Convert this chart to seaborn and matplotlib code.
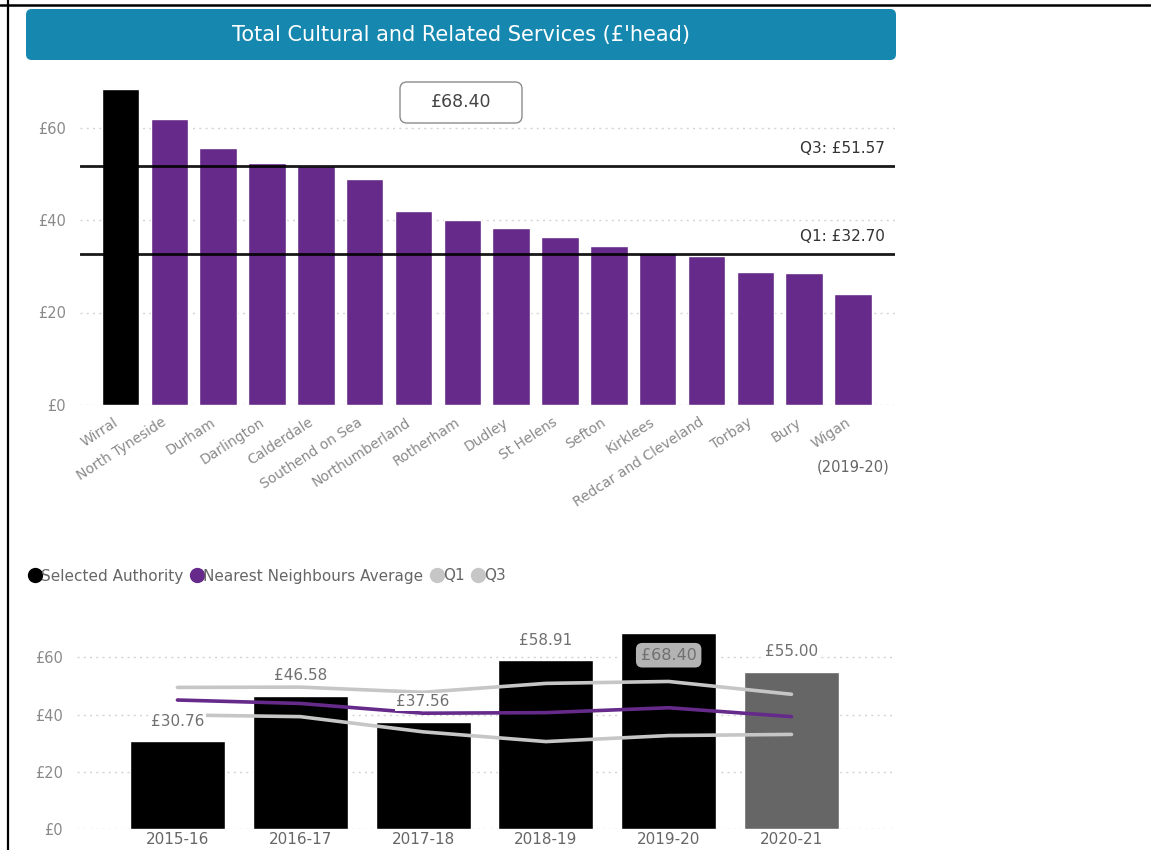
import numpy as np
import pandas as pd
import matplotlib
matplotlib.use("Agg")
import matplotlib.pyplot as plt
import matplotlib.transforms as mtrans
from matplotlib.patches import FancyBboxPatch
from matplotlib.lines import Line2D
import seaborn as sns

# ---- data -------------------------------------------------------------
authorities = ["Wirral", "North Tyneside", "Durham", "Darlington", "Calderdale",
               "Southend on Sea", "Northumberland", "Rotherham", "Dudley",
               "St Helens", "Sefton", "Kirklees", "Redcar and Cleveland",
               "Torbay", "Bury", "Wigan"]
spend_per_head = [68.40, 61.8, 55.6, 52.3, 51.7, 48.8, 41.9, 40.0, 38.3,
                  36.4, 34.4, 32.8, 32.2, 28.7, 28.5, 24.0]
q1_value = 32.70
q3_value = 51.57
selected_authority = "Wirral"

years = ["2015-16", "2016-17", "2017-18", "2018-19", "2019-20", "2020-21"]
selected_spend = [30.76, 46.58, 37.56, 58.91, 68.40, 55.00]
neighbours_avg = [45.1, 43.9, 40.5, 40.7, 42.4, 39.3]
q1_trend = [39.9, 39.3, 34.0, 30.6, 32.70, 33.1]
q3_trend = [49.5, 49.6, 47.8, 50.9, 51.57, 47.1]
current_year = "2019-20"
forecast_year = "2020-21"

yticks = [0, 20, 40, 60]

# ---- styling ----------------------------------------------------------
sns.set_theme(style="white")
plt.rcParams["font.family"] = ["DejaVu Sans"]

PURPLE = "#662a8a"
BLACK = "#000000"
GREY_BAR = "#666666"
GREY_LINE = "#c6c6c6"
TEAL = "#1688b0"
TICK_COL = "#8a8a8a"
TEXT_COL = "#666666"

W, H = 1151, 850
fig = plt.figure(figsize=(W / 100, H / 100), dpi=100)
fig.patch.set_facecolor("white")


def fbox(x0, y0, x1, y1):
    """Pixel box (top-left origin) -> figure-fraction rect."""
    return [x0 / W, 1 - y1 / H, (x1 - x0) / W, (y1 - y0) / H]


# page frame lines
fig.add_artist(Line2D([0, 1], [1 - 5 / H, 1 - 5 / H], color="black", lw=1.8,
                      transform=fig.transFigure))
fig.add_artist(Line2D([8 / W, 8 / W], [0, 1], color="black", lw=1.6,
                      transform=fig.transFigure))

# title banner
fig.add_artist(FancyBboxPatch((26 / W, 1 - 60 / H), 870 / W, 51 / H,
                              boxstyle="round,pad=0,rounding_size=0.005",
                              transform=fig.transFigure, facecolor=TEAL,
                              edgecolor="none", mutation_aspect=W / H))
fig.text(461 / W, 1 - 35 / H, "Total Cultural and Related Services (£'head)",
         ha="center", va="center", color="white", fontsize=15)


def style_axes(ax):
    sns.despine(ax=ax, left=True, bottom=True)
    ax.set_yticks(yticks)
    ax.set_yticklabels([f"£{v}" for v in yticks])
    ax.tick_params(axis="y", length=0, pad=10, labelsize=10.5, labelcolor=TICK_COL)
    ax.grid(False)
    for v in yticks:
        ax.axhline(v, color="#d4d4d4", lw=1.0, ls=(0, (1.5, 3)), zorder=0)
    ax.set_xlabel("")
    ax.set_ylabel("")


# ---- top: authority comparison ----------------------------------------
ax1 = fig.add_axes(fbox(80, 72, 895, 405))
df_top = pd.DataFrame({"authority": authorities, "spend": spend_per_head})
top_palette = {a: (BLACK if a == selected_authority else PURPLE) for a in authorities}
sns.barplot(data=df_top, x="authority", y="spend", hue="authority",
            palette=top_palette, legend=False, width=0.77, saturation=1,
            ax=ax1, zorder=2)
ax1.set_ylim(0, 72)
ax1.set_xlim(-0.83, 15.86)
style_axes(ax1)
ax1.tick_params(axis="x", length=0, pad=0, labelsize=10, labelcolor=TICK_COL)
offset = mtrans.ScaledTranslation(-4 / 100, -16 / 100, fig.dpi_scale_trans)
for lab in ax1.get_xticklabels():
    lab.set_rotation(33)
    lab.set_ha("right")
    lab.set_va("center")
    lab.set_rotation_mode("anchor")
    lab.set_transform(lab.get_transform() + offset)

for qv, name in [(q3_value, "Q3"), (q1_value, "Q1")]:
    ax1.axhline(qv, color="black", lw=2.0, zorder=3, alpha=0.9)
    ax1.annotate(f"{name}: £{qv:.2f}", xy=(1, qv), xycoords=("axes fraction", "data"),
                 xytext=(-10, 17.5), textcoords="offset pixels", ha="right",
                 va="center", fontsize=11, color="#333333")

fig.text(890 / W, 1 - 467 / H, "(2019-20)", ha="right", va="center",
         fontsize=10.5, color=TEXT_COL)

# selected-authority value card
sel_val = spend_per_head[authorities.index(selected_authority)]
fig.add_artist(FancyBboxPatch((400 / W, 1 - 123 / H), 122 / W, 41 / H,
                              boxstyle="round,pad=0,rounding_size=0.006",
                              transform=fig.transFigure, facecolor="white",
                              edgecolor="#8c8c8c", lw=1.0, mutation_aspect=W / H))
fig.text(461 / W, 1 - 102 / H, f"£{sel_val:.2f}", ha="center", va="center",
         fontsize=12.5, color="#444444")

# ---- legend -----------------------------------------------------------
handles = [Line2D([], [], marker="o", ls="", color=c, markersize=10)
           for c in [BLACK, PURPLE, GREY_LINE, GREY_LINE]]
labels = ["Selected Authority", "Nearest Neighbours Average", "Q1", "Q3"]
fig.legend(handles, labels, loc="center left", bbox_to_anchor=(30 / W, 1 - 576 / H),
           ncol=4, frameon=False, handlelength=0.6, handletextpad=0.1,
           columnspacing=0.6, fontsize=11, labelcolor=TEXT_COL,
           borderaxespad=0, borderpad=0)

# ---- bottom: trend over years ------------------------------------------
ax2 = fig.add_axes(fbox(77, 622.9, 895, 829.3))
df_bot = pd.DataFrame({"year": years, "spend": selected_spend})
bot_palette = {y: (GREY_BAR if y == forecast_year else BLACK) for y in years}
sns.barplot(data=df_bot, x="year", y="spend", hue="year", palette=bot_palette,
            legend=False, width=0.774, saturation=1, ax=ax2, zorder=2)
xpos = np.arange(len(years))
sns.lineplot(x=xpos, y=q3_trend, color=GREY_LINE, lw=2.6, ax=ax2, zorder=3)
sns.lineplot(x=xpos, y=q1_trend, color=GREY_LINE, lw=2.6, ax=ax2, zorder=3)
sns.lineplot(x=xpos, y=neighbours_avg, color=PURPLE, lw=2.6, ax=ax2, zorder=3)
ax2.set_ylim(0, 72)
ax2.set_xlim(-0.818, 5.843)
style_axes(ax2)
ax2.set_xticks(xpos)
ax2.set_xticklabels(years)
ax2.tick_params(axis="x", length=0, pad=2, labelsize=11, labelcolor=TEXT_COL)

for i, (yr, v) in enumerate(zip(years, selected_spend)):
    if yr == current_year:
        ax2.annotate(f"£{v:.2f}", xy=(i, v), xytext=(0, -22), textcoords="offset pixels",
                     ha="center", va="center", fontsize=11.5, color="#707070", zorder=5,
                     bbox=dict(boxstyle="round,pad=0.3,rounding_size=0.4",
                               facecolor="#b3b3b3", edgecolor="none"))
    else:
        ax2.annotate(f"£{v:.2f}", xy=(i, v), xytext=(0, 20), textcoords="offset pixels",
                     ha="center", va="center", fontsize=11, color="#707070", zorder=5,
                     bbox=dict(boxstyle="square,pad=0.1", facecolor="white",
                               edgecolor="none"))

fig.savefig("out.png", dpi=100, facecolor="white")
